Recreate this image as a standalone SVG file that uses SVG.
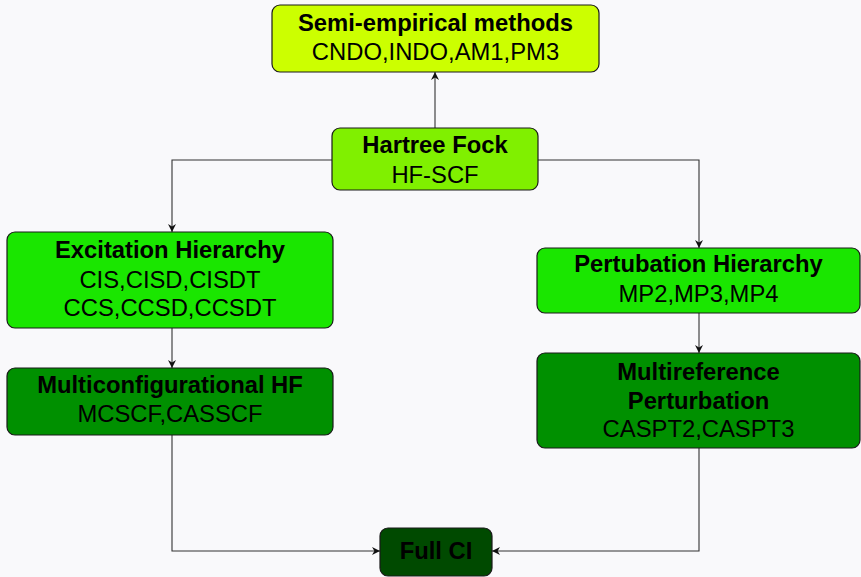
<svg xmlns="http://www.w3.org/2000/svg" width="861" height="577" viewBox="0 0 861 577">
<style>
.box{stroke:#1a1a1a;stroke-width:1.2}
text{font-family:"Liberation Sans",Arial,sans-serif;font-size:23.8px;text-anchor:middle;fill:#000}
.b{font-weight:bold}
.c{fill:none;stroke:#333;stroke-width:1.1}
</style>
<defs>
<marker id="ah" viewBox="0 0 10 10" refX="10" refY="5" markerWidth="8" markerHeight="8" markerUnits="userSpaceOnUse" orient="auto">
<path d="M0,0 L10,5 L0,10 L3,5 Z" fill="#111"/>
</marker>
</defs>
<rect width="861" height="577" fill="#f9f9fb"/>
<g id="connectors">
<line class="c" x1="435" y1="128" x2="435" y2="72" marker-end="url(#ah)"/>
<polyline class="c" points="332,160 172,160 172,232" marker-end="url(#ah)"/>
<polyline class="c" points="538,160 699,160 699,248" marker-end="url(#ah)"/>
<line class="c" x1="172" y1="328" x2="172" y2="368" marker-end="url(#ah)"/>
<line class="c" x1="699" y1="313" x2="699" y2="353" marker-end="url(#ah)"/>
<polyline class="c" points="172,435 172,551 380,551" marker-end="url(#ah)"/>
<polyline class="c" points="699,448 699,551 492,551" marker-end="url(#ah)"/>
</g>
<g id="semi">
<rect class="box" x="272" y="5" width="327" height="67" rx="8" fill="#ccff00"/>
<text class="b" x="435.5" y="31">Semi-empirical methods</text>
<text x="435.5" y="60">CNDO,INDO,AM1,PM3</text>
</g>
<g id="hf">
<rect class="box" x="332" y="128" width="206" height="62" rx="8" fill="#80f000"/>
<text class="b" x="435" y="153">Hartree Fock</text>
<text x="435" y="183">HF-SCF</text>
</g>
<g id="excitation">
<rect class="box" x="7" y="232" width="326" height="96" rx="8" fill="#1ae600"/>
<text class="b" x="170" y="258">Excitation Hierarchy</text>
<text x="170" y="288">CIS,CISD,CISDT</text>
<text x="170" y="316">CCS,CCSD,CCSDT</text>
</g>
<g id="mchf">
<rect class="box" x="7" y="368" width="326" height="67" rx="8" fill="#009000"/>
<text class="b" x="170" y="393">Multiconfigurational HF</text>
<text x="170" y="422">MCSCF,CASSCF</text>
</g>
<g id="pert">
<rect class="box" x="537" y="248" width="323" height="65" rx="8" fill="#1ae600"/>
<text class="b" x="698.5" y="272">Pertubation Hierarchy</text>
<text x="698.5" y="302">MP2,MP3,MP4</text>
</g>
<g id="mrpt">
<rect class="box" x="537" y="353" width="323" height="95" rx="8" fill="#009000"/>
<text class="b" x="698.5" y="380">Multireference</text>
<text class="b" x="698.5" y="409">Perturbation</text>
<text x="698.5" y="437">CASPT2,CASPT3</text>
</g>
<g id="fullci">
<rect class="box" x="380" y="528" width="112" height="48" rx="8" fill="#004a00"/>
<text class="b" x="436" y="559">Full CI</text>
</g>
</svg>
